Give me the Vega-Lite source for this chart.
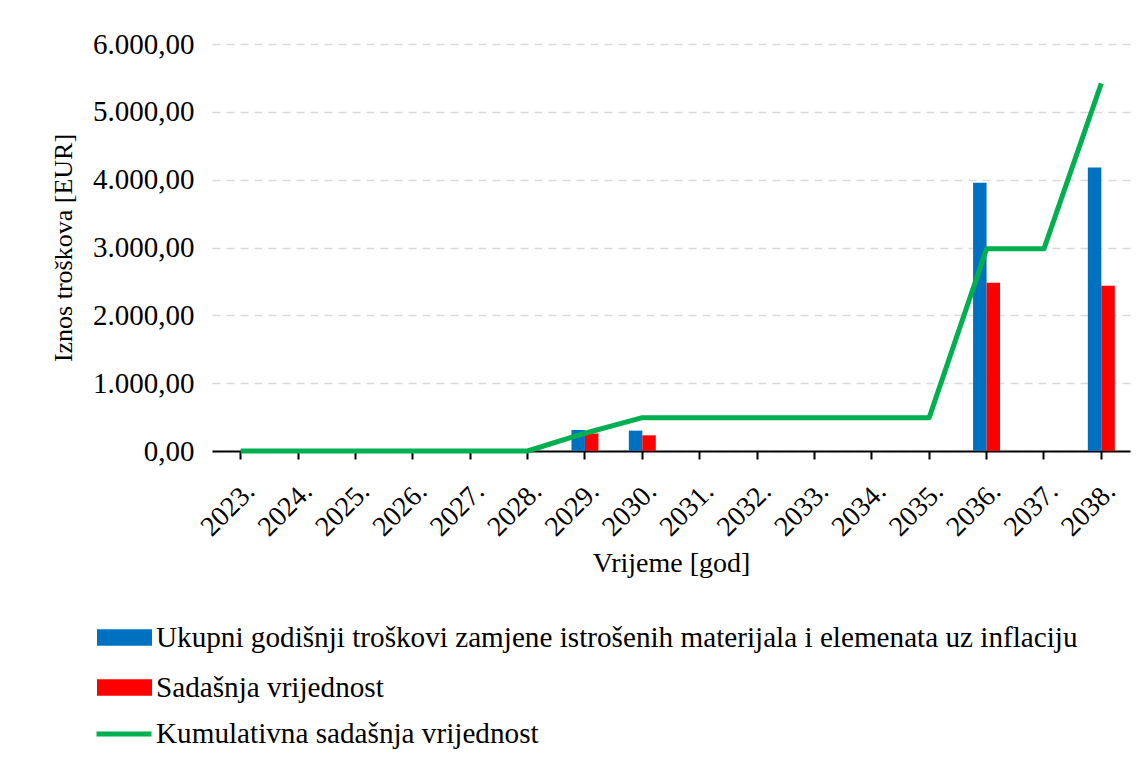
{
  "$schema": "https://vega.github.io/schema/vega-lite/v6.json",
  "width": 918,
  "height": 407,
  "autosize": {"type": "none"},
  "padding": {"left": 212, "top": 44, "right": 15, "bottom": 309},
  "background": "white",
  "datasets": {
    "stupci": [
      {"god": "2023.", "serija": "Ukupni godišnji troškovi zamjene istrošenih materijala i elemenata uz inflaciju", "iznos": 0},
      {"god": "2023.", "serija": "Sadašnja vrijednost", "iznos": 0},
      {"god": "2024.", "serija": "Ukupni godišnji troškovi zamjene istrošenih materijala i elemenata uz inflaciju", "iznos": 0},
      {"god": "2024.", "serija": "Sadašnja vrijednost", "iznos": 0},
      {"god": "2025.", "serija": "Ukupni godišnji troškovi zamjene istrošenih materijala i elemenata uz inflaciju", "iznos": 0},
      {"god": "2025.", "serija": "Sadašnja vrijednost", "iznos": 0},
      {"god": "2026.", "serija": "Ukupni godišnji troškovi zamjene istrošenih materijala i elemenata uz inflaciju", "iznos": 0},
      {"god": "2026.", "serija": "Sadašnja vrijednost", "iznos": 0},
      {"god": "2027.", "serija": "Ukupni godišnji troškovi zamjene istrošenih materijala i elemenata uz inflaciju", "iznos": 0},
      {"god": "2027.", "serija": "Sadašnja vrijednost", "iznos": 0},
      {"god": "2028.", "serija": "Ukupni godišnji troškovi zamjene istrošenih materijala i elemenata uz inflaciju", "iznos": 0},
      {"god": "2028.", "serija": "Sadašnja vrijednost", "iznos": 0},
      {"god": "2029.", "serija": "Ukupni godišnji troškovi zamjene istrošenih materijala i elemenata uz inflaciju", "iznos": 310},
      {"god": "2029.", "serija": "Sadašnja vrijednost", "iznos": 258},
      {"god": "2030.", "serija": "Ukupni godišnji troškovi zamjene istrošenih materijala i elemenata uz inflaciju", "iznos": 300},
      {"god": "2030.", "serija": "Sadašnja vrijednost", "iznos": 231},
      {"god": "2031.", "serija": "Ukupni godišnji troškovi zamjene istrošenih materijala i elemenata uz inflaciju", "iznos": 0},
      {"god": "2031.", "serija": "Sadašnja vrijednost", "iznos": 0},
      {"god": "2032.", "serija": "Ukupni godišnji troškovi zamjene istrošenih materijala i elemenata uz inflaciju", "iznos": 0},
      {"god": "2032.", "serija": "Sadašnja vrijednost", "iznos": 0},
      {"god": "2033.", "serija": "Ukupni godišnji troškovi zamjene istrošenih materijala i elemenata uz inflaciju", "iznos": 0},
      {"god": "2033.", "serija": "Sadašnja vrijednost", "iznos": 0},
      {"god": "2034.", "serija": "Ukupni godišnji troškovi zamjene istrošenih materijala i elemenata uz inflaciju", "iznos": 0},
      {"god": "2034.", "serija": "Sadašnja vrijednost", "iznos": 0},
      {"god": "2035.", "serija": "Ukupni godišnji troškovi zamjene istrošenih materijala i elemenata uz inflaciju", "iznos": 0},
      {"god": "2035.", "serija": "Sadašnja vrijednost", "iznos": 0},
      {"god": "2036.", "serija": "Ukupni godišnji troškovi zamjene istrošenih materijala i elemenata uz inflaciju", "iznos": 3955},
      {"god": "2036.", "serija": "Sadašnja vrijednost", "iznos": 2481},
      {"god": "2037.", "serija": "Ukupni godišnji troškovi zamjene istrošenih materijala i elemenata uz inflaciju", "iznos": 0},
      {"god": "2037.", "serija": "Sadašnja vrijednost", "iznos": 0},
      {"god": "2038.", "serija": "Ukupni godišnji troškovi zamjene istrošenih materijala i elemenata uz inflaciju", "iznos": 4180},
      {"god": "2038.", "serija": "Sadašnja vrijednost", "iznos": 2437}
    ],
    "linija": [
      {"god": "2023.", "kumulativ": 0},
      {"god": "2024.", "kumulativ": 0},
      {"god": "2025.", "kumulativ": 0},
      {"god": "2026.", "kumulativ": 0},
      {"god": "2027.", "kumulativ": 0},
      {"god": "2028.", "kumulativ": 0},
      {"god": "2029.", "kumulativ": 262},
      {"god": "2030.", "kumulativ": 492},
      {"god": "2031.", "kumulativ": 492},
      {"god": "2032.", "kumulativ": 492},
      {"god": "2033.", "kumulativ": 492},
      {"god": "2034.", "kumulativ": 492},
      {"god": "2035.", "kumulativ": 492},
      {"god": "2036.", "kumulativ": 2980},
      {"god": "2037.", "kumulativ": 2980},
      {"god": "2038.", "kumulativ": 5420}
    ]
  },
  "layer": [
    {
      "data": {"name": "stupci"},
      "mark": {"type": "bar"},
      "encoding": {
        "x": {
          "field": "god", "type": "nominal", "sort": null,
          "scale": {"paddingInner": 0.53, "paddingOuter": 0.265},
          "axis": {
            "title": "Vrijeme [god]",
            "labelAngle": -45,
            "labelFontSize": 28, "labelColor": "black",
            "labelPadding": 18,
            "domainColor": "black", "domainWidth": 2,
            "tickColor": "black", "tickWidth": 2, "tickSize": 8,
            "titleFontSize": 28, "titleFontWeight": "normal", "titleColor": "black",
            "titlePadding": 8,
            "grid": false
          }
        },
        "xOffset": {
          "field": "serija", "type": "nominal",
          "sort": ["Ukupni godišnji troškovi zamjene istrošenih materijala i elemenata uz inflaciju", "Sadašnja vrijednost"],
          "scale": {"paddingInner": 0, "paddingOuter": 0}
        },
        "y": {
          "field": "iznos", "type": "quantitative",
          "scale": {"domain": [0, 6000], "nice": false},
          "axis": {
            "title": "Iznos troškova [EUR]",
            "values": [0, 1000, 2000, 3000, 4000, 5000, 6000],
            "labelExpr": "replace(replace(replace(format(datum.value, ',.2f'), ',', '#'), '.', ','), '#', '.')",
            "labelFontSize": 29, "labelColor": "black",
            "labelPadding": 18,
            "ticks": false, "domain": false,
            "grid": true, "gridColor": "#d9d9d9", "gridWidth": 1.5, "gridDash": [8, 6],
            "titleFontSize": 26, "titleFontWeight": "normal", "titleColor": "black",
            "titlePadding": 16
          }
        },
        "color": {
          "field": "serija", "type": "nominal",
          "scale": {
            "domain": ["Ukupni godišnji troškovi zamjene istrošenih materijala i elemenata uz inflaciju", "Sadašnja vrijednost"],
            "range": ["#0070c0", "#ff0000"]
          },
          "legend": {
            "orient": "none", "legendX": -115, "legendY": 566,
            "direction": "vertical", "title": null,
            "symbolType": "M-1,-0.3H1V0.3H-1Z", "symbolSize": 3025,
            "symbolStrokeWidth": 0, "symbolOpacity": 1,
            "labelFontSize": 29.2, "labelColor": "black",
            "labelLimit": 1100, "labelOffset": 4, "rowPadding": 7
          }
        }
      }
    },
    {
      "data": {"name": "linija"},
      "mark": {"type": "line", "strokeWidth": 5, "strokeJoin": "round"},
      "encoding": {
        "x": {"field": "god", "type": "nominal", "sort": null},
        "y": {"field": "kumulativ", "type": "quantitative"},
        "stroke": {
          "datum": "Kumulativna sadašnja vrijednost",
          "scale": {"range": ["#00b050"]},
          "legend": {
            "orient": "none", "legendX": -118, "legendY": 660,
            "title": null,
            "symbolType": "stroke", "symbolSize": 3025, "symbolStrokeWidth": 5,
            "labelFontSize": 29.2, "labelColor": "black",
            "labelLimit": 1100, "labelOffset": 2
          }
        }
      }
    }
  ],
  "config": {
    "view": {"stroke": null},
    "font": "Liberation Serif",
    "axis": {"labelFont": "Liberation Serif", "titleFont": "Liberation Serif"},
    "legend": {"labelFont": "Liberation Serif"}
  }
}
